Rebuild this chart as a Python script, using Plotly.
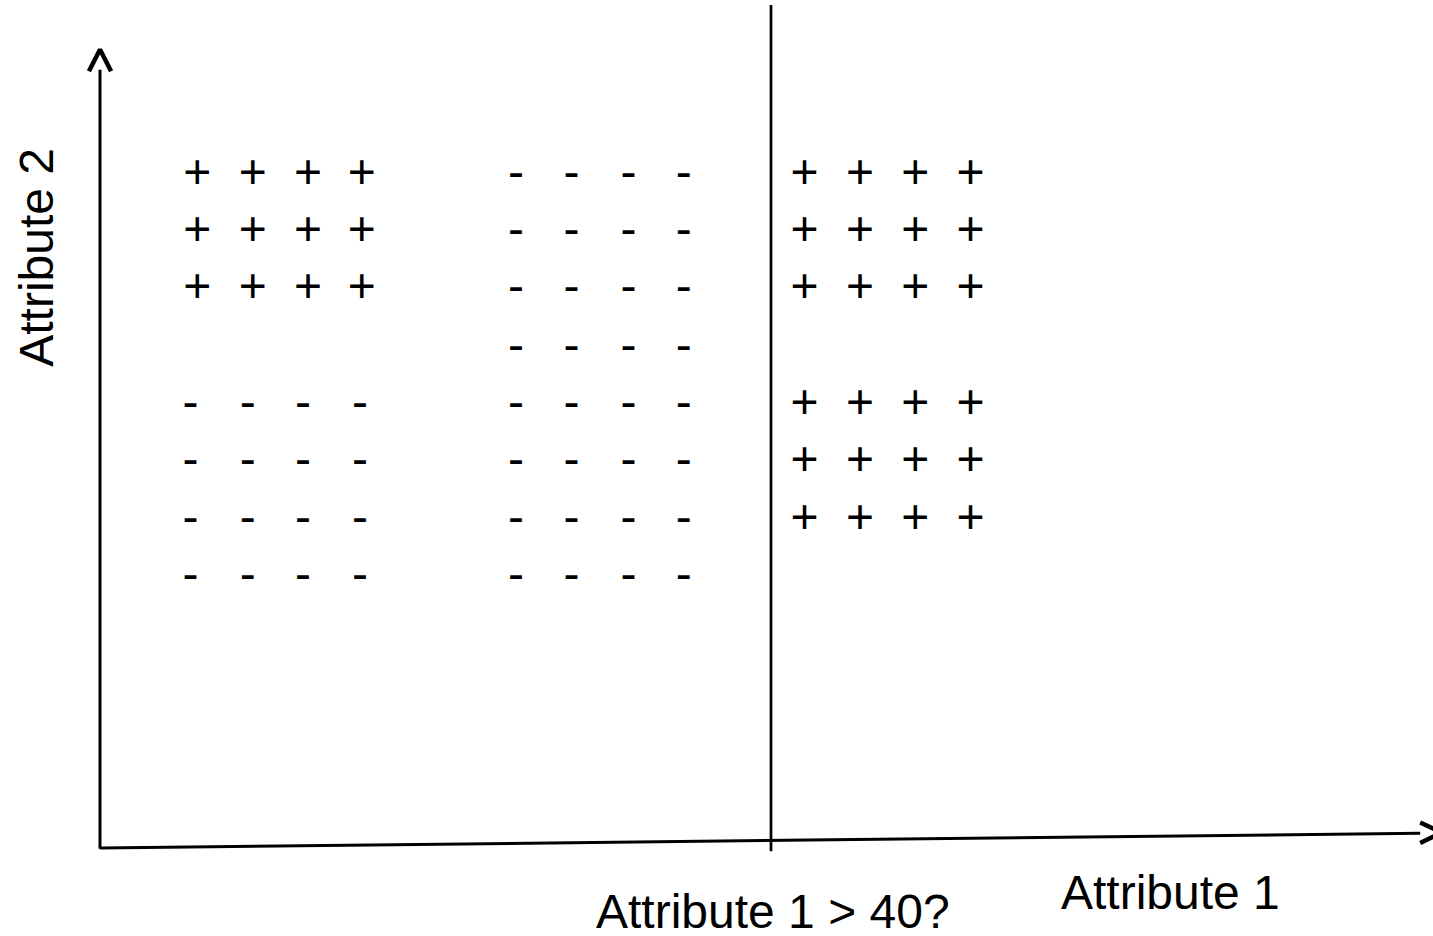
import plotly.graph_objects as go

# Units: Attribute 1 (x) and Attribute 2 (y); split threshold at Attribute 1 = 40
SPLIT = 40

# Row positions (Attribute 2)
rows_top = [40.07, 36.67, 33.27]
rows_all = [40.07, 36.67, 33.27, 29.77, 26.37, 22.97, 19.47, 16.07]
rows_low_plus = [26.37, 22.97, 19.47]
rows_low_minus = [26.37, 22.97, 19.47, 16.07]

# Column positions (Attribute 1)
plus_left_cols = [5.8, 9.1, 12.4, 15.6]
minus_left_cols = [5.4, 8.8, 12.1, 15.5]
minus_mid_cols = [24.8, 28.1, 31.5, 34.8]
plus_right_cols = [42.0, 45.3, 48.6, 51.9]

# Axis geometry (in data units)
y_axis_x = [0, 0]
y_axis_y = [-0.05, 46.4]
y_arrow_x = [-0.66, 0, 0.66]
y_arrow_y = [46.3, 47.6, 46.3]
x_axis_x = [0, 78.7]
x_axis_y = [0.0, 0.88]
x_arrow_x = [78.7, 80.0, 78.7]
x_arrow_y = [1.52, 0.92, 0.30]
split_y = [-0.2, 50.25]

FONT = "Liberation Sans, Arial, sans-serif"


def grid(cols, rows):
    xs, ys = [], []
    for r in rows:
        for c in cols:
            xs.append(c)
            ys.append(r)
    return xs, ys


fig = go.Figure()

line_style = dict(color="black", width=3)
fig.add_trace(go.Scatter(x=y_axis_x, y=y_axis_y, mode="lines", line=line_style, hoverinfo="skip"))
fig.add_trace(go.Scatter(x=y_arrow_x, y=y_arrow_y, mode="lines", line=dict(color="black", width=4.5), hoverinfo="skip"))
fig.add_trace(go.Scatter(x=x_axis_x, y=x_axis_y, mode="lines", line=line_style, hoverinfo="skip"))
fig.add_trace(go.Scatter(x=x_arrow_x, y=x_arrow_y, mode="lines", line=dict(color="black", width=4.5), hoverinfo="skip"))
fig.add_trace(go.Scatter(x=[SPLIT, SPLIT], y=split_y, mode="lines", line=dict(color="black", width=2.7), hoverinfo="skip"))

for cols, rows, sym in [
    (plus_left_cols, rows_top, "+"),
    (minus_left_cols, rows_low_minus, "-"),
    (minus_mid_cols, rows_all, "-"),
    (plus_right_cols, rows_top, "+"),
    (plus_right_cols, rows_low_plus, "+"),
]:
    xs, ys = grid(cols, rows)
    fig.add_trace(go.Scatter(
        x=xs, y=ys, mode="text", text=[sym] * len(xs),
        textposition="middle center",
        textfont=dict(family=FONT, size=48, color="black"),
        hoverinfo="skip",
    ))

fig.add_annotation(x=63.8, y=-2.65, text="Attribute 1", showarrow=False,
                   font=dict(family=FONT, size=48, color="black"),
                   xanchor="center", yanchor="middle")
fig.add_annotation(x=40.1, y=-3.8, text="Attribute 1 > 40?", showarrow=False,
                   font=dict(family=FONT, size=48, color="black"),
                   xanchor="center", yanchor="middle")
fig.add_annotation(x=-3.8, y=35.2, text="Attribute 2", showarrow=False, textangle=-90,
                   font=dict(family=FONT, size=48, color="black"),
                   xanchor="center", yanchor="middle")

fig.update_layout(
    width=1433, height=936,
    margin=dict(l=0, r=0, t=0, b=0),
    paper_bgcolor="white", plot_bgcolor="white",
    showlegend=False,
    xaxis=dict(range=[-100 / 16.775, 1333 / 16.775], visible=False, fixedrange=True),
    yaxis=dict(range=[-88 / 16.775, 848 / 16.775], visible=False, fixedrange=True),
)

fig.write_html(
    "out.html",
    config={"displayModeBar": False},
    post_script="document.body.style.margin='0';document.body.style.overflow='hidden';",
)
